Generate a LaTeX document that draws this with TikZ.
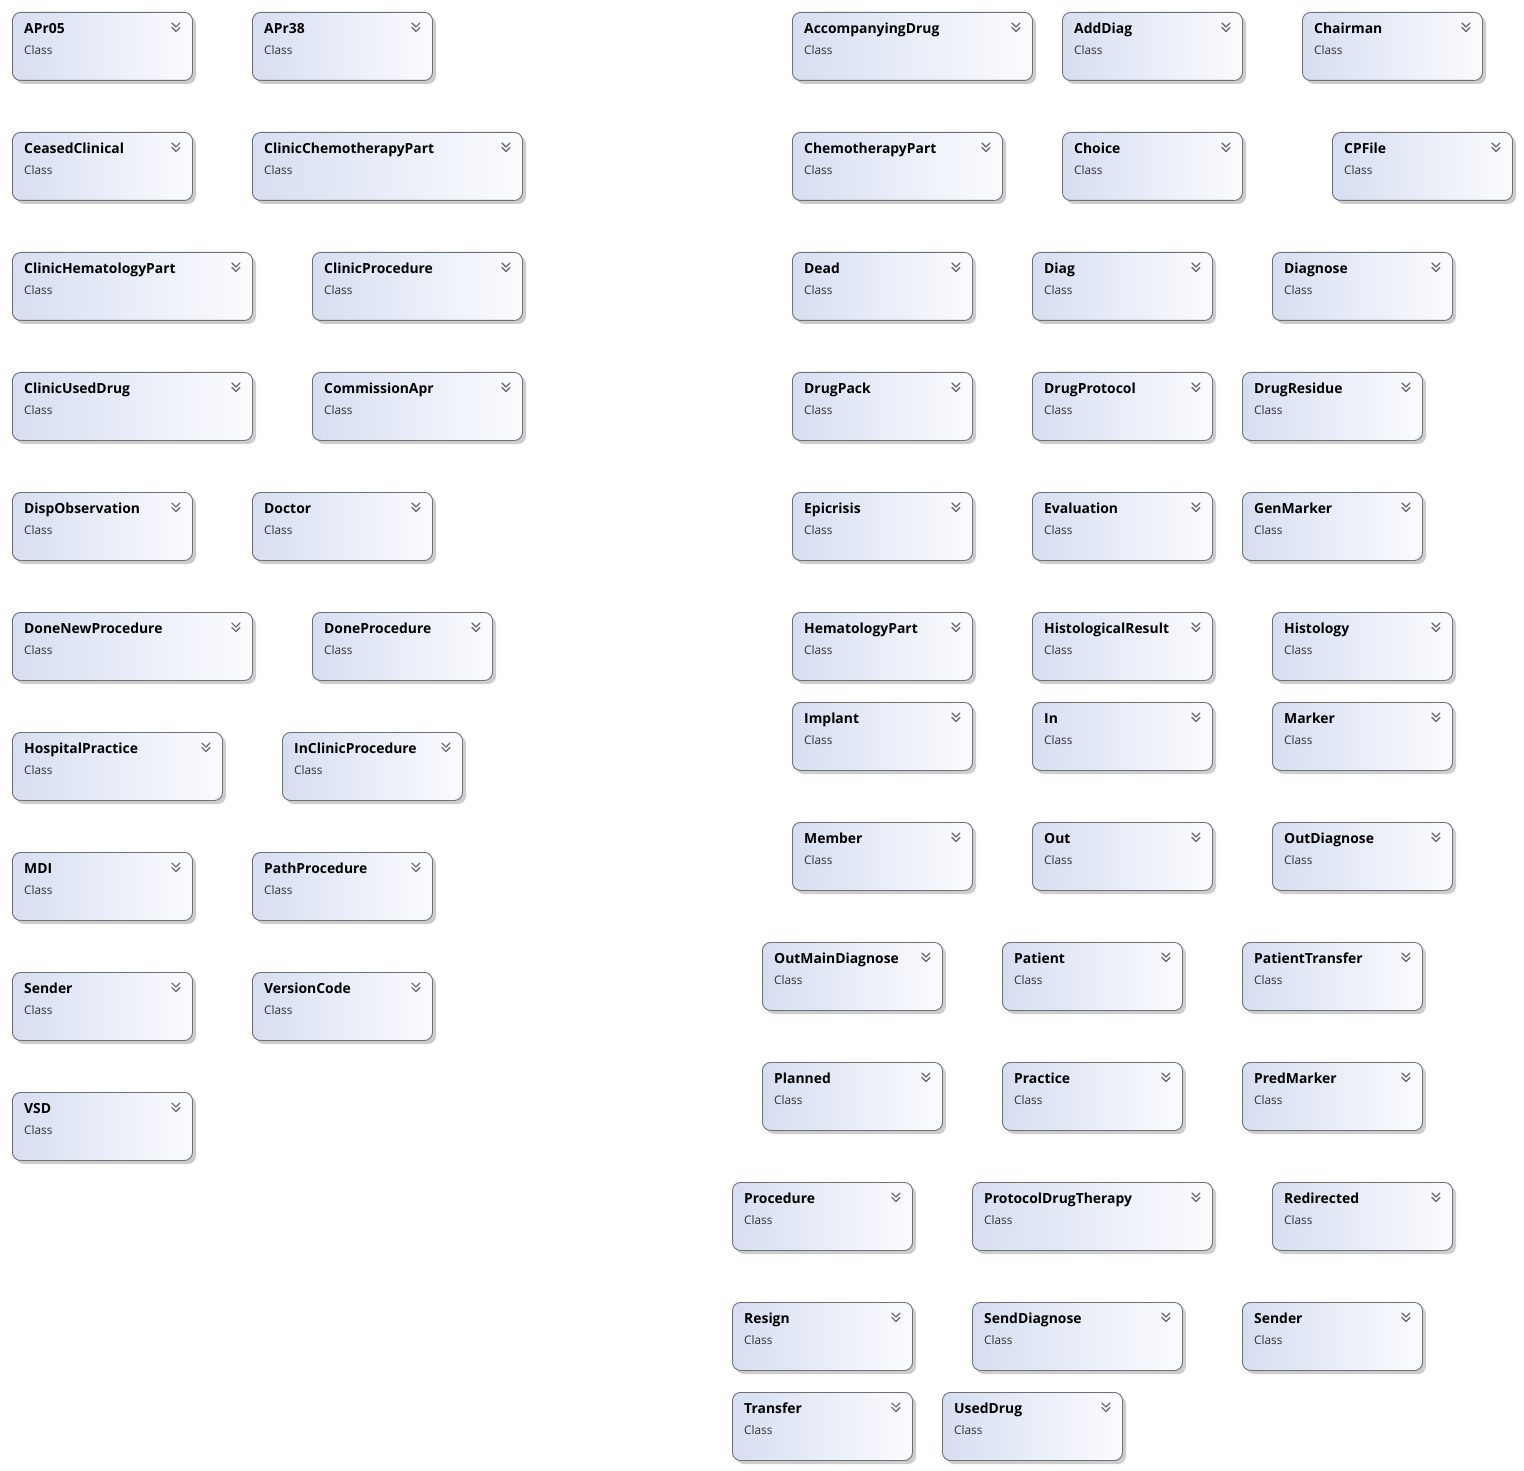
\documentclass[tikz,border=0pt]{standalone}
\usepackage{fontspec}
\setmainfont{Open Sans}
\begin{document}
\definecolor{boxleft}{RGB}{214,222,241}
\definecolor{boxright}{RGB}{251,252,254}
\definecolor{boxborder}{RGB}{112,112,112}
\definecolor{boxshadow}{RGB}{205,205,205}
\definecolor{chevron}{RGB}{100,100,100}
\definecolor{kindgray}{RGB}{50,50,50}
\tikzset{
  classshape/.style={draw=boxborder, line width=0.9pt, rounded corners=8pt,
    left color=boxleft, right color=boxright, minimum height=68pt,
    inner sep=0pt, anchor=north west},
  classshadow/.style={fill=boxshadow, rounded corners=8pt},
  titletext/.style={anchor=base west, inner sep=0pt, font=\fontsize{13.9}{16}\selectfont\bfseries},
  kindtext/.style={anchor=base west, inner sep=0pt, text=kindgray, font=\fontsize{11.8}{14}\selectfont},
  chev/.style={draw=chevron, line width=1.2pt, line cap=round, line join=round}
}
% \classbox{node name}{left}{top}{width}{title}
\newcommand\classbox[5]{%
  \fill[classshadow] (#2+4,#3+4) rectangle ++(#4,68);
  \node[classshape, minimum width=#4pt] (#1) at (#2,#3) {};
  \node[titletext] (#1-title) at ([xshift=12pt,yshift=-21.8pt]#1.north west) {#5};
  \node[kindtext] (#1-kind) at ([xshift=12pt,yshift=-42.3pt]#1.north west) {Class};
  \draw[chev] ([xshift=-21pt,yshift=-11pt]#1.north east) -- ++(4,4) -- ++(4,-4);
  \draw[chev] ([xshift=-21pt,yshift=-15.5pt]#1.north east) -- ++(4,4) -- ++(4,-4);
}
\begin{tikzpicture}[x=1pt,y=-1pt]
\useasboundingbox (0,0) rectangle (1524,1471);
% left group
\classbox{apr05}{12}{12}{180}{APr05}
\classbox{apr38}{252}{12}{180}{APr38}
\classbox{ceased}{12}{132}{180}{CeasedClinical}
\classbox{clinchemo}{252}{132}{270}{ClinicChemotherapyPart}
\classbox{clinhema}{12}{252}{240}{ClinicHematologyPart}
\classbox{clinproc}{312}{252}{210}{ClinicProcedure}
\classbox{clinused}{12}{372}{240}{ClinicUsedDrug}
\classbox{commapr}{312}{372}{210}{CommissionApr}
\classbox{dispobs}{12}{492}{180}{DispObservation}
\classbox{doctor}{252}{492}{180}{Doctor}
\classbox{donenew}{12}{612}{240}{DoneNewProcedure}
\classbox{doneproc}{312}{612}{180}{DoneProcedure}
\classbox{hosppract}{12}{732}{210}{HospitalPractice}
\classbox{inclinproc}{282}{732}{180}{InClinicProcedure}
\classbox{mdi}{12}{852}{180}{MDI}
\classbox{pathproc}{252}{852}{180}{PathProcedure}
\classbox{senderA}{12}{972}{180}{Sender}
\classbox{vercode}{252}{972}{180}{VersionCode}
\classbox{vsd}{12}{1092}{180}{VSD}
% right group
\classbox{accdrug}{792}{12}{240}{AccompanyingDrug}
\classbox{adddiag}{1062}{12}{180}{AddDiag}
\classbox{chairman}{1302}{12}{180}{Chairman}
\classbox{chemo}{792}{132}{210}{ChemotherapyPart}
\classbox{choice}{1062}{132}{180}{Choice}
\classbox{cpfile}{1332}{132}{180}{CPFile}
\classbox{dead}{792}{252}{180}{Dead}
\classbox{diag}{1032}{252}{180}{Diag}
\classbox{diagnose}{1272}{252}{180}{Diagnose}
\classbox{drugpack}{792}{372}{180}{DrugPack}
\classbox{drugprot}{1032}{372}{180}{DrugProtocol}
\classbox{drugres}{1242}{372}{180}{DrugResidue}
\classbox{epicrisis}{792}{492}{180}{Epicrisis}
\classbox{evaluation}{1032}{492}{180}{Evaluation}
\classbox{genmarker}{1242}{492}{180}{GenMarker}
\classbox{hemapart}{792}{612}{180}{HematologyPart}
\classbox{histres}{1032}{612}{180}{HistologicalResult}
\classbox{histology}{1272}{612}{180}{Histology}
\classbox{implant}{792}{702}{180}{Implant}
\classbox{in}{1032}{702}{180}{In}
\classbox{marker}{1272}{702}{180}{Marker}
\classbox{member}{792}{822}{180}{Member}
\classbox{out}{1032}{822}{180}{Out}
\classbox{outdiag}{1272}{822}{180}{OutDiagnose}
\classbox{outmain}{762}{942}{180}{OutMainDiagnose}
\classbox{patient}{1002}{942}{180}{Patient}
\classbox{pattrans}{1242}{942}{180}{PatientTransfer}
\classbox{planned}{762}{1062}{180}{Planned}
\classbox{practice}{1002}{1062}{180}{Practice}
\classbox{predmarker}{1242}{1062}{180}{PredMarker}
\classbox{procedure}{732}{1182}{180}{Procedure}
\classbox{protdrug}{972}{1182}{240}{ProtocolDrugTherapy}
\classbox{redirected}{1272}{1182}{180}{Redirected}
\classbox{resign}{732}{1302}{180}{Resign}
\classbox{senddiag}{972}{1302}{210}{SendDiagnose}
\classbox{senderB}{1242}{1302}{180}{Sender}
\classbox{transfer}{732}{1392}{180}{Transfer}
\classbox{useddrug}{942}{1392}{180}{UsedDrug}
\end{tikzpicture}
\end{document}
